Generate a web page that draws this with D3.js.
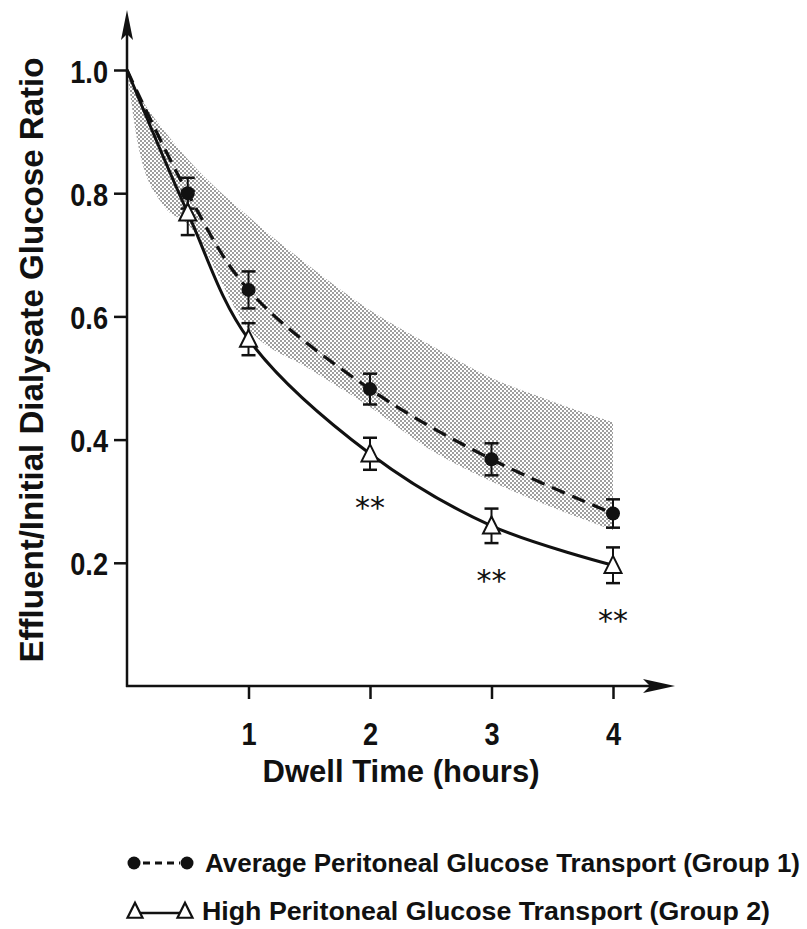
<!DOCTYPE html>
<html>
<head>
<meta charset="utf-8">
<script src="https://cdn.jsdelivr.net/npm/d3@7"></script>
<style>
  body { margin: 0; background: #fff; }
  svg { display: block; }
  text { font-family: "Liberation Sans Narrow", "Arial Narrow", "Liberation Sans", sans-serif; font-weight: bold; fill: #111; }
</style>
</head>
<body>
<svg id="chart" width="807" height="929"></svg>
<script>
// dwell time (hours) of the measured points
const times = [0.5, 1, 2, 3, 4]
const startValue = 1.0
// group 1: average peritoneal glucose transport
const group1 = [0.800, 0.643, 0.482, 0.368, 0.280]
const group1Err = [0.025, 0.030, 0.025, 0.026, 0.023]
// group 2: high peritoneal glucose transport
const group2 = [0.768, 0.563, 0.377, 0.260, 0.196]
const group2Err = [0.036, 0.026, 0.026, 0.028, 0.029]
const significant = [false, false, true, true, true]
// shaded normal range
const bandTimes = [0, 0.1, 0.3, 0.5, 1, 1.5, 2, 2.5, 3, 3.5, 4]
const bandUpper = [1.0, 0.96, 0.903, 0.855, 0.762, 0.682, 0.610, 0.553, 0.500, 0.462, 0.428]
const bandLower = [1.0, 0.87, 0.78, 0.75, 0.58, 0.515, 0.453, 0.383, 0.332, 0.290, 0.253]
const xTicks = [1, 2, 3, 4]
const yTicks = [0.2, 0.4, 0.6, 0.8, 1.0]
const xTitle = 'Dwell Time (hours)'
const yTitle = 'Effluent/Initial Dialysate Glucose Ratio'
const legendLabels = ['Average Peritoneal Glucose Transport (Group 1)', 'High Peritoneal Glucose Transport (Group 2)']

const svg = d3.select('#chart')
const x = d3.scaleLinear().domain([0, 4]).range([127, 613])
const y = d3.scaleLinear().domain([0, 1]).range([686, 70])

// squeeze text horizontally (condensed face is not installed)
function squeeze(sel, factor) {
  sel.each(function () {
    const w = this.getComputedTextLength()
    d3.select(this).attr('textLength', w * factor).attr('lengthAdjust', 'spacingAndGlyphs')
  })
}

// dot screen pattern for the band
const defs = svg.append('defs')
const pat = defs.append('pattern').attr('id', 'dots')
  .attr('width', 4).attr('height', 4).attr('patternUnits', 'userSpaceOnUse')
pat.append('circle').attr('cx', 1).attr('cy', 1).attr('r', 0.8).attr('fill', '#222')
pat.append('circle').attr('cx', 3).attr('cy', 3).attr('r', 0.8).attr('fill', '#222')

const band = bandTimes.map((t, i) => ({ t, hi: bandUpper[i], lo: bandLower[i] }))
svg.append('path')
  .datum(band)
  .attr('fill', 'url(#dots)')
  .attr('d', d3.area().x(d => x(d.t)).y0(d => y(d.lo)).y1(d => y(d.hi)).curve(d3.curveMonotoneX))

// axes
const x0 = x(0), y0 = y(0)
const yTop = 10, xEnd = 675
svg.append('line').attr('x1', x0).attr('y1', y0 + 1).attr('x2', x0).attr('y2', yTop + 20)
  .attr('stroke', '#111').attr('stroke-width', 2.5)
svg.append('line').attr('x1', x0 - 1).attr('y1', y0).attr('x2', xEnd - 20).attr('y2', y0)
  .attr('stroke', '#111').attr('stroke-width', 2.5)
svg.append('path').attr('fill', '#111')
  .attr('d', `M${x0},${yTop} L${x0 - 6},${yTop + 30} L${x0},${yTop + 24} L${x0 + 6},${yTop + 30}Z`)
svg.append('path').attr('fill', '#111')
  .attr('d', `M${xEnd},${y0} L${xEnd - 32},${y0 - 7} L${xEnd - 25},${y0} L${xEnd - 32},${y0 + 7}Z`)

const xAxis = svg.append('g').attr('transform', `translate(0,${y0})`)
  .call(d3.axisBottom(x).tickValues(xTicks).tickSize(13).tickPadding(23).tickFormat(d3.format('d')))
xAxis.select('.domain').remove()
xAxis.selectAll('line').attr('stroke', '#111').attr('stroke-width', 2.5)
xAxis.selectAll('text').attr('font-size', 32).attr('font-family', null).attr('fill', '#111')
  .call(squeeze, 0.85)

const yAxis = svg.append('g').attr('transform', `translate(${x0},0)`)
  .call(d3.axisLeft(y).tickValues(yTicks).tickSize(13).tickPadding(6).tickFormat(d3.format('.1f')))
yAxis.select('.domain').remove()
yAxis.selectAll('line').attr('stroke', '#111').attr('stroke-width', 2.5)
yAxis.selectAll('text').attr('font-size', 32).attr('font-family', null).attr('fill', '#111')
  .attr('dy', '0.38em').call(squeeze, 0.85)

svg.append('text').attr('x', 401).attr('y', 782).attr('text-anchor', 'middle')
  .attr('font-size', 32).attr('textLength', 277).attr('lengthAdjust', 'spacingAndGlyphs').text(xTitle)
svg.append('text').attr('transform', `translate(43,360) rotate(-90)`).attr('text-anchor', 'middle')
  .attr('font-size', 34).attr('textLength', 605).attr('lengthAdjust', 'spacingAndGlyphs').text(yTitle)

// curves
const pts1 = [{ t: 0, v: startValue }].concat(times.map((t, i) => ({ t, v: group1[i] })))
const pts2 = [{ t: 0, v: startValue }].concat(times.map((t, i) => ({ t, v: group2[i] })))
const line = d3.line().x(d => x(d.t)).y(d => y(d.v)).curve(d3.curveCatmullRom.alpha(0.5))
svg.append('path').datum(pts2).attr('fill', 'none').attr('stroke', '#111')
  .attr('stroke-width', 3).attr('d', line)
svg.append('path').datum(pts1).attr('fill', 'none').attr('stroke', '#111')
  .attr('stroke-width', 3.2).attr('stroke-dasharray', '14,8').attr('d', line)

// error bars
function errorBars(vals, errs) {
  const g = svg.append('g').attr('stroke', '#111')
  times.forEach((t, i) => {
    const cx = x(t), hi = y(vals[i] + errs[i]), lo = y(vals[i] - errs[i])
    g.append('line').attr('x1', cx).attr('x2', cx).attr('y1', hi).attr('y2', lo).attr('stroke-width', 2)
    g.append('line').attr('x1', cx - 7).attr('x2', cx + 7).attr('y1', hi).attr('y2', hi).attr('stroke-width', 2.5)
    g.append('line').attr('x1', cx - 7).attr('x2', cx + 7).attr('y1', lo).attr('y2', lo).attr('stroke-width', 2.5)
  })
}
errorBars(group2, group2Err)
errorBars(group1, group1Err)

const tri = (cx, cy, s) => `M${cx},${cy - s * 0.55} L${cx + s / 2},${cy + s * 0.45} L${cx - s / 2},${cy + s * 0.45}Z`
svg.append('g').selectAll('path').data(times).join('path')
  .attr('d', (t, i) => tri(x(t), y(group2[i]), 17))
  .attr('fill', '#fff').attr('stroke', '#111').attr('stroke-width', 2)
svg.append('g').selectAll('circle').data(times).join('circle')
  .attr('cx', t => x(t)).attr('cy', (t, i) => y(group1[i])).attr('r', 7)
  .attr('fill', '#111')

// significance marks
svg.append('g').selectAll('text').data(times.filter((t, i) => significant[i])).join('text')
  .attr('x', t => x(t)).attr('text-anchor', 'middle')
  .attr('y', t => { const i = times.indexOf(t); return y(group2[i] - group2Err[i]) + 48 })
  .style('font-family', '"DejaVu Sans", sans-serif').style('font-weight', 'normal')
  .attr('font-size', 30).attr('textLength', 30).attr('lengthAdjust', 'spacing').text('**')

// legend
const leg = svg.append('g')
const l1 = 863, l2 = 911
leg.append('line').attr('x1', 140).attr('x2', 180).attr('y1', l1).attr('y2', l1)
  .attr('stroke', '#111').attr('stroke-width', 3).attr('stroke-dasharray', '7,5').attr('stroke-dashoffset', -3)
leg.selectAll('circle').data([134, 187]).join('circle')
  .attr('cx', d => d).attr('cy', l1).attr('r', 6.5).attr('fill', '#111')
leg.append('line').attr('x1', 140).attr('x2', 180).attr('y1', l2 + 2).attr('y2', l2 + 2)
  .attr('stroke', '#111').attr('stroke-width', 2.5)
leg.selectAll('path').data([135, 185]).join('path')
  .attr('d', d => tri(d, l2, 15)).attr('fill', '#fff').attr('stroke', '#111').attr('stroke-width', 2.2)
leg.selectAll('text').data(legendLabels).join('text')
  .attr('x', (d, i) => i ? 202 : 205).attr('y', (d, i) => i ? 920 : 872)
  .attr('font-size', 26).attr('lengthAdjust', 'spacingAndGlyphs')
  .attr('textLength', (d, i) => i ? 568 : 595).text(d => d)
</script>
</body>
</html>
